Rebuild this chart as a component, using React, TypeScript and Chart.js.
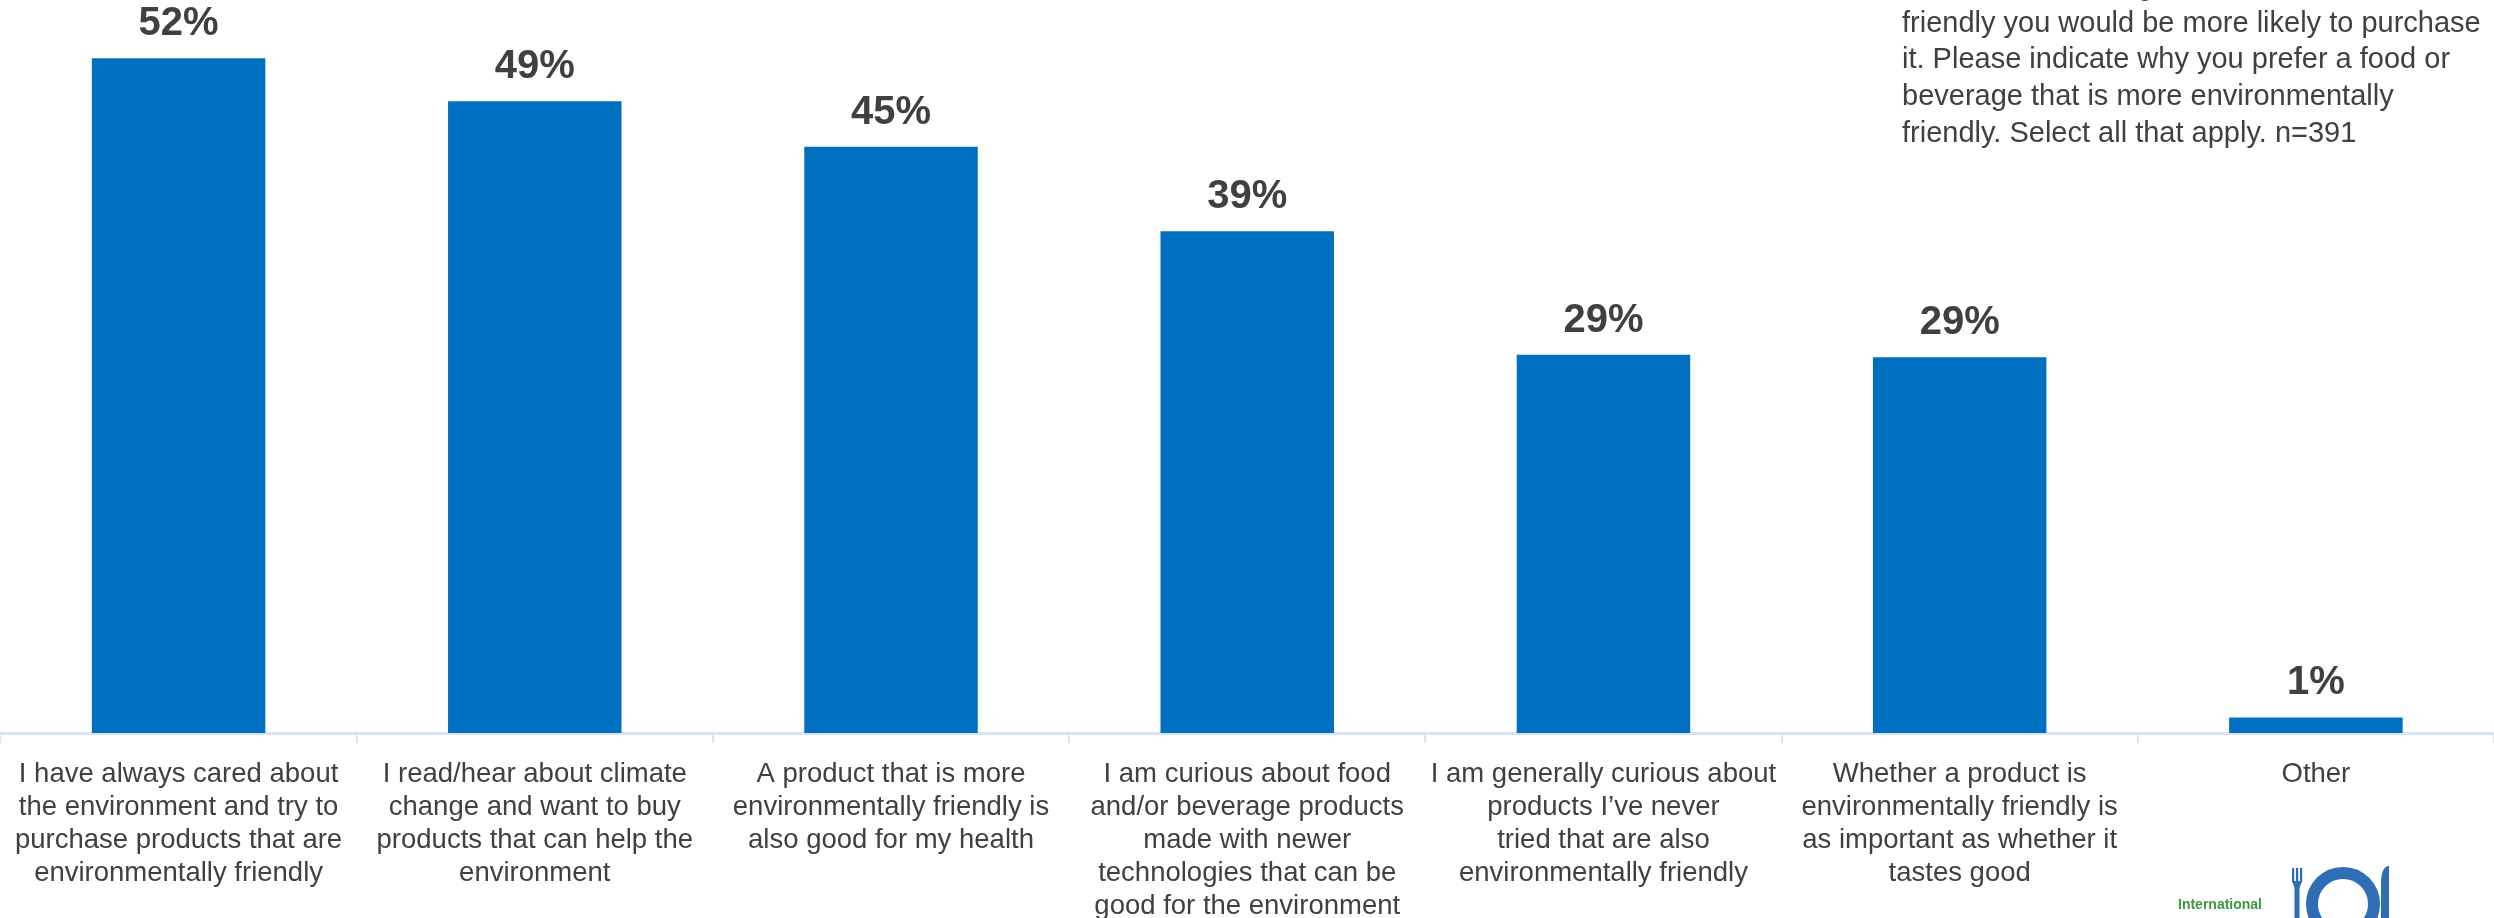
import React, { useEffect, useRef } from "react";
import { Chart, registerables } from "chart.js";

Chart.register(...registerables);

const categories: string[][] = [
  ["I have always cared about", "the environment and try to", "purchase products that are", "environmentally friendly"],
  ["I read/hear about climate", "change and want to buy", "products that can help the", "environment"],
  ["A product that is more", "environmentally friendly is", "also good for my health"],
  ["I am curious about food", "and/or beverage products", "made with newer", "technologies that can be", "good for the environment"],
  ["I am generally curious about", "products I\u2019ve never", "tried that are also", "environmentally friendly"],
  ["Whether a product is", "environmentally friendly is", "as important as whether it", "tastes good"],
  ["Other"],
];

const percentValues: number[] = [51.9, 48.6, 45.1, 38.6, 29.1, 28.9, 1.2];

const noteLines: string[] = [
  "If a food or beverage were more environmentally",
  "friendly you would be more likely to purchase",
  "it. Please indicate why you prefer a food or",
  "beverage that is more environmentally",
  "friendly. Select all that apply. n=391",
];

const FONT = "'Liberation Sans', Arial, Helvetica, sans-serif";
const TEXT = "#404040";
const BAR = "#0070c0";
const AXIS = "#dae3f3";

const valueLabelPlugin = {
  id: "valueLabels",
  afterDatasetsDraw(chart: any) {
    const ctx = chart.ctx;
    const meta = chart.getDatasetMeta(0);
    ctx.save();
    ctx.fillStyle = TEXT;
    ctx.font = `bold 40px ${FONT}`;
    ctx.textAlign = "center";
    ctx.textBaseline = "alphabetic";
    meta.data.forEach((bar: any, i: number) => {
      ctx.fillText(Math.round(percentValues[i]) + "%", bar.x, bar.y - 23);
    });
    ctx.restore();
  },
};

const notePlugin = {
  id: "noteText",
  afterDraw(chart: any) {
    const ctx = chart.ctx;
    ctx.save();
    ctx.fillStyle = TEXT;
    ctx.font = `29px ${FONT}`;
    ctx.textAlign = "left";
    ctx.textBaseline = "alphabetic";
    noteLines.forEach((line, i) => {
      ctx.fillText(line, 1902, -5 + i * 36.7);
    });

    // logo
    ctx.fillStyle = "#3a9a3f";
    ctx.font = `bold 14px ${FONT}`;
    ctx.textAlign = "right";
    ctx.fillText("International", 2262, 909);

    const blue = "#2f6db5";
    ctx.strokeStyle = blue;
    ctx.fillStyle = blue;
    ctx.lineWidth = 12;
    ctx.beginPath();
    ctx.arc(2343, 904, 31, 0, Math.PI * 2);
    ctx.stroke();
    // fork
    ctx.fillRect(2292, 868, 2.2, 14);
    ctx.fillRect(2296, 868, 2.2, 14);
    ctx.fillRect(2300, 868, 2.2, 14);
    ctx.beginPath();
    ctx.moveTo(2292, 881);
    ctx.lineTo(2302.2, 881);
    ctx.lineTo(2299.5, 888);
    ctx.lineTo(2294.7, 888);
    ctx.closePath();
    ctx.fill();
    ctx.fillRect(2294.5, 886, 5, 32);
    // knife
    ctx.beginPath();
    ctx.moveTo(2381, 918);
    ctx.lineTo(2381, 880);
    ctx.quadraticCurveTo(2382, 867, 2388, 866);
    ctx.lineTo(2389, 866);
    ctx.lineTo(2389, 918);
    ctx.closePath();
    ctx.fill();
    ctx.restore();
  },
};

export default function App() {
  const ref = useRef<HTMLCanvasElement | null>(null);

  useEffect(() => {
    document.body.style.margin = "0";
    const canvas = ref.current;
    if (!canvas) return;
    const chart = new Chart(canvas, {
      type: "bar",
      data: {
        labels: categories,
        datasets: [
          {
            data: percentValues,
            backgroundColor: BAR,
            borderWidth: 0,
            categoryPercentage: 1,
            barPercentage: 0.487,
          },
        ],
      },
      options: {
        responsive: false,
        animation: false,
        events: [],
        layout: { padding: 0 },
        plugins: {
          legend: { display: false },
          title: { display: false },
          tooltip: { enabled: false },
        },
        scales: {
          x: {
            offset: true,
            grid: {
              display: true,
              offset: true,
              drawOnChartArea: false,
              drawTicks: true,
              tickLength: 10,
              color: AXIS,
              lineWidth: 2,
            },
            border: { display: true, color: AXIS, width: 3 },
            ticks: {
              autoSkip: false,
              maxRotation: 0,
              minRotation: 0,
              padding: 15,
              color: TEXT,
              font: { family: FONT, size: 27.5, lineHeight: 33 / 27.5 },
            },
            afterFit: (scale: any) => {
              scale.height = 185;
            },
          },
          y: {
            display: false,
            min: 0,
            max: 56.38,
          },
        },
      },
      plugins: [valueLabelPlugin, notePlugin],
    });
    return () => chart.destroy();
  }, []);

  return (
    <div style={{ position: "absolute", left: 0, top: 0, width: 2494, height: 918, background: "#fff" }}>
      <canvas ref={ref} width={2494} height={918} style={{ display: "block", width: 2494, height: 918 }} />
    </div>
  );
}
